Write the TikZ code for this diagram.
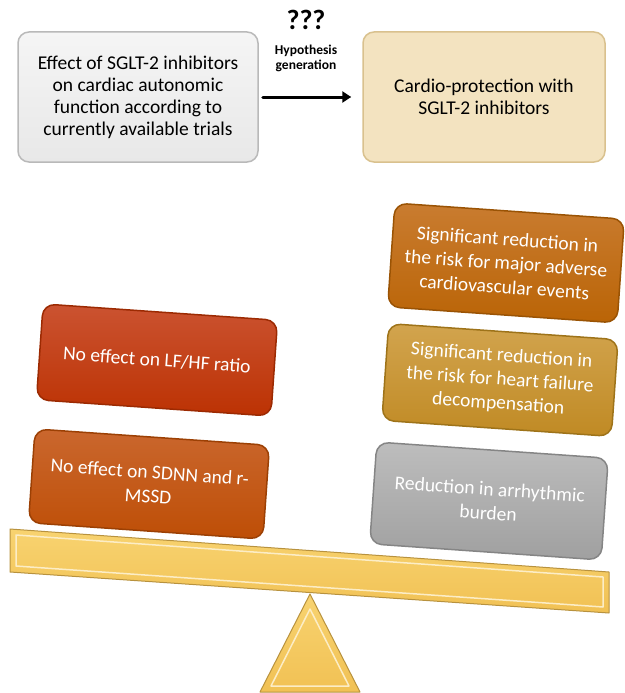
\documentclass[tikz,border=0pt]{standalone}
\usepackage{fontspec}
\setmainfont{Carlito}
\usetikzlibrary{arrows.meta}
\definecolor{lfhfA}{HTML}{CB5331}\definecolor{lfhfB}{HTML}{BC3203}\definecolor{lfhfD}{HTML}{9C2A02}
\definecolor{sdnnA}{HTML}{CA672E}\definecolor{sdnnB}{HTML}{BE4E06}\definecolor{sdnnD}{HTML}{9C4004}
\definecolor{maceA}{HTML}{C97C30}\definecolor{maceB}{HTML}{BA6406}\definecolor{maceD}{HTML}{9A5304}
\definecolor{hfA}{HTML}{D2A44E}\definecolor{hfB}{HTML}{C08A24}\definecolor{hfD}{HTML}{9E7319}
\definecolor{arrA}{HTML}{BDBDBD}\definecolor{arrB}{HTML}{A0A0A0}\definecolor{arrD}{HTML}{858585}
\definecolor{beamA}{HTML}{F8D370}\definecolor{beamB}{HTML}{F1C154}\definecolor{beamD}{HTML}{B8923E}
\definecolor{wheat}{HTML}{F3E3C0}\definecolor{wheatD}{HTML}{D9C18E}
\begin{document}
\begin{tikzpicture}[x=1pt, y=-1pt, line join=round, line cap=round, >={Triangle[length=9pt,width=11pt]},
  topbox/.style={rounded corners=11pt, line width=1.5pt, minimum width=240pt, minimum height=130pt,
    align=center, font=\fontsize{19.5}{22}\selectfont},
  weight/.style={rounded corners=12pt, line width=1.5pt, rotate=-4, text=white, align=center,
    font=\fontsize{19.5}{24}\selectfont, inner sep=0pt},
  ]
				\useasboundingbox (0,0) rectangle (624,693);
				% balance
				\draw[beamD, line width=1pt, top color=beamA, bottom color=beamB]
				(10,529) -- (609,572) -- (609,613) -- (10,572) -- cycle;
				\draw[white!60!beamA, line width=1.5pt] (16,535) -- (603,577) -- (603,607) -- (16,566) -- cycle;
				\draw[beamD, line width=1pt, top color=beamA, bottom color=beamB]
				(310,594) -- (360,692) -- (260,692) -- cycle;
				\draw[white!60!beamA, line width=1.5pt] (310,609) -- (349,686) -- (271,686) -- cycle;
				% top row
				\node[topbox, draw=gray!55, top color=gray!8, bottom color=gray!18] (eff) at (138,97)
				{Effect of SGLT-2 inhibitors\\on cardiac autonomic\\function according to\\currently available trials};
				\node[topbox, draw=wheatD, fill=wheat, minimum width=242pt] (card) at (484,97)
				{Cardio-protection with\\SGLT-2 inhibitors};
				\draw[->, line width=3pt, shorten <=4pt, shorten >=11pt] (eff) -- (card);
				\node[font=\fontsize{28}{28}\selectfont\bfseries] (q) at (306,20) {???};
				\node[font=\fontsize{13.5}{15}\selectfont\bfseries, align=center] (hyp) at (306,58) {Hypothesis\\generation};
				% left pan
				\node[weight, draw=lfhfD, top color=lfhfA, bottom color=lfhfB, minimum width=235pt, minimum height=96pt] (lfhf) at (157,360)
				{No effect on LF/HF ratio};
				\node[weight, draw=sdnnD, top color=sdnnA, bottom color=sdnnB, minimum width=235pt, minimum height=94pt] (sdnn) at (149,484)
				{No effect on SDNN and r-\\MSSD};
				% right pan
				\node[weight, draw=maceD, top color=maceA, bottom color=maceB, minimum width=230pt, minimum height=104pt] (mace) at (506,263)
				{Significant reduction in\\the risk for major adverse\\cardiovascular events};
				\node[weight, draw=hfD, top color=hfA, bottom color=hfB, minimum width=230pt, minimum height=97pt] (hf) at (500,380)
				{Significant reduction in\\the risk for heart failure\\decompensation};
				\node[weight, draw=arrD, top color=arrA, bottom color=arrB, minimum width=232pt, minimum height=102pt] (arr) at (489,501)
				{Reduction in arrhythmic\\burden};
\end{tikzpicture}
\end{document}
